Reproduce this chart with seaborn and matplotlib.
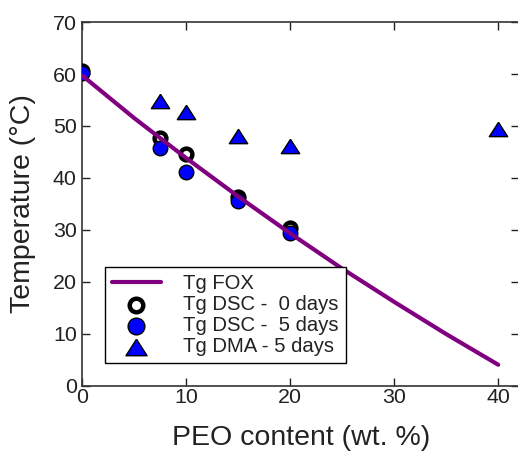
import matplotlib
matplotlib.use("Agg")
import matplotlib.pyplot as plt
import seaborn as sns
import pandas as pd

# PEO content (wt. %) and glass transition temperatures (°C)
fox_peo = [0, 5, 10, 15, 20, 25, 30, 35, 40]
fox_tg = [59.7, 51.5, 43.8, 36.4, 29.3, 22.5, 16.1, 9.9, 4.0]

dsc_peo = [0, 7.5, 10, 15, 20]
dsc0_tg = [60.6, 47.6, 44.7, 36.4, 30.3]
dsc5_tg = [60.3, 45.7, 41.2, 35.5, 29.3]

dma_peo = [7.5, 10, 15, 20, 40]
dma5_tg = [54.9, 52.7, 48.1, 46.1, 49.4]

labels = ["Tg FOX", "Tg DSC -  0 days", "Tg DSC -  5 days", "Tg DMA - 5 days"]

# slightly flattened up-triangle
tri = [(0, 0.78), (-1, -0.78), (1, -0.78), (0, 0.78)]

sns.set_theme(style="ticks")
plt.rcParams["font.family"] = ["Liberation Sans", "DejaVu Sans"]

fig = plt.figure(figsize=(5.18, 4.53), dpi=100)
ax = fig.add_axes([0.159, 0.149, 0.843, 0.802])

sns.scatterplot(x=dsc_peo, y=dsc0_tg, ax=ax, marker="o", s=72, facecolor="white",
                edgecolor="black", linewidth=3.2, label=labels[1], zorder=3)
sns.scatterplot(x=dsc_peo, y=dsc5_tg, ax=ax, marker="o", s=110, color="#0000ff",
                edgecolor="black", linewidth=1.0, label=labels[2], zorder=4)
sns.scatterplot(x=dma_peo, y=dma5_tg, ax=ax, marker=tri, s=175, color="#0000ff",
                edgecolor="black", linewidth=1.0, label=labels[3], zorder=4)

fox = pd.DataFrame({"peo": fox_peo, "tg": fox_tg})
sns.lineplot(data=fox, x="peo", y="tg", ax=ax, color="#800080", linewidth=3.0,
             label=labels[0], zorder=5)

ax.set_xlim(0, 42)
ax.set_ylim(0, 70)
ax.set_xticks([0, 10, 20, 30, 40])
ax.set_yticks([0, 10, 20, 30, 40, 50, 60, 70])
ax.tick_params(direction="in", length=6, width=1.0, labelsize=15.4,
               top=True, right=True, colors="#222222", labelcolor="#222222")
ax.tick_params(axis="x", pad=2)
ax.tick_params(axis="y", pad=4)
for sp in ax.spines.values():
    sp.set_linewidth(1.2)
    sp.set_color("#333333")
    sp.set_visible(True)

ax.set_xlabel("PEO content (wt. %)", fontsize=20.5, color="#222222", labelpad=13)
ax.set_ylabel("Temperature (°C)", fontsize=20.5, color="#222222", labelpad=12)

handles, labs = ax.get_legend_handles_labels()
order = [labs.index(l) for l in labels]
leg = ax.legend([handles[i] for i in order], [labs[i] for i in order],
                loc="lower left", bbox_to_anchor=(0.0515, 0.062), borderaxespad=0,
                fontsize=14.6, frameon=True, fancybox=False, framealpha=1,
                edgecolor="black", handlelength=2.4, handletextpad=1.1,
                labelspacing=0.1, borderpad=0.35, markerscale=1.15)
leg.get_frame().set_linewidth(1.0)
for t in leg.get_texts():
    t.set_color("#222222")

fig.savefig("out.png", dpi=100)
